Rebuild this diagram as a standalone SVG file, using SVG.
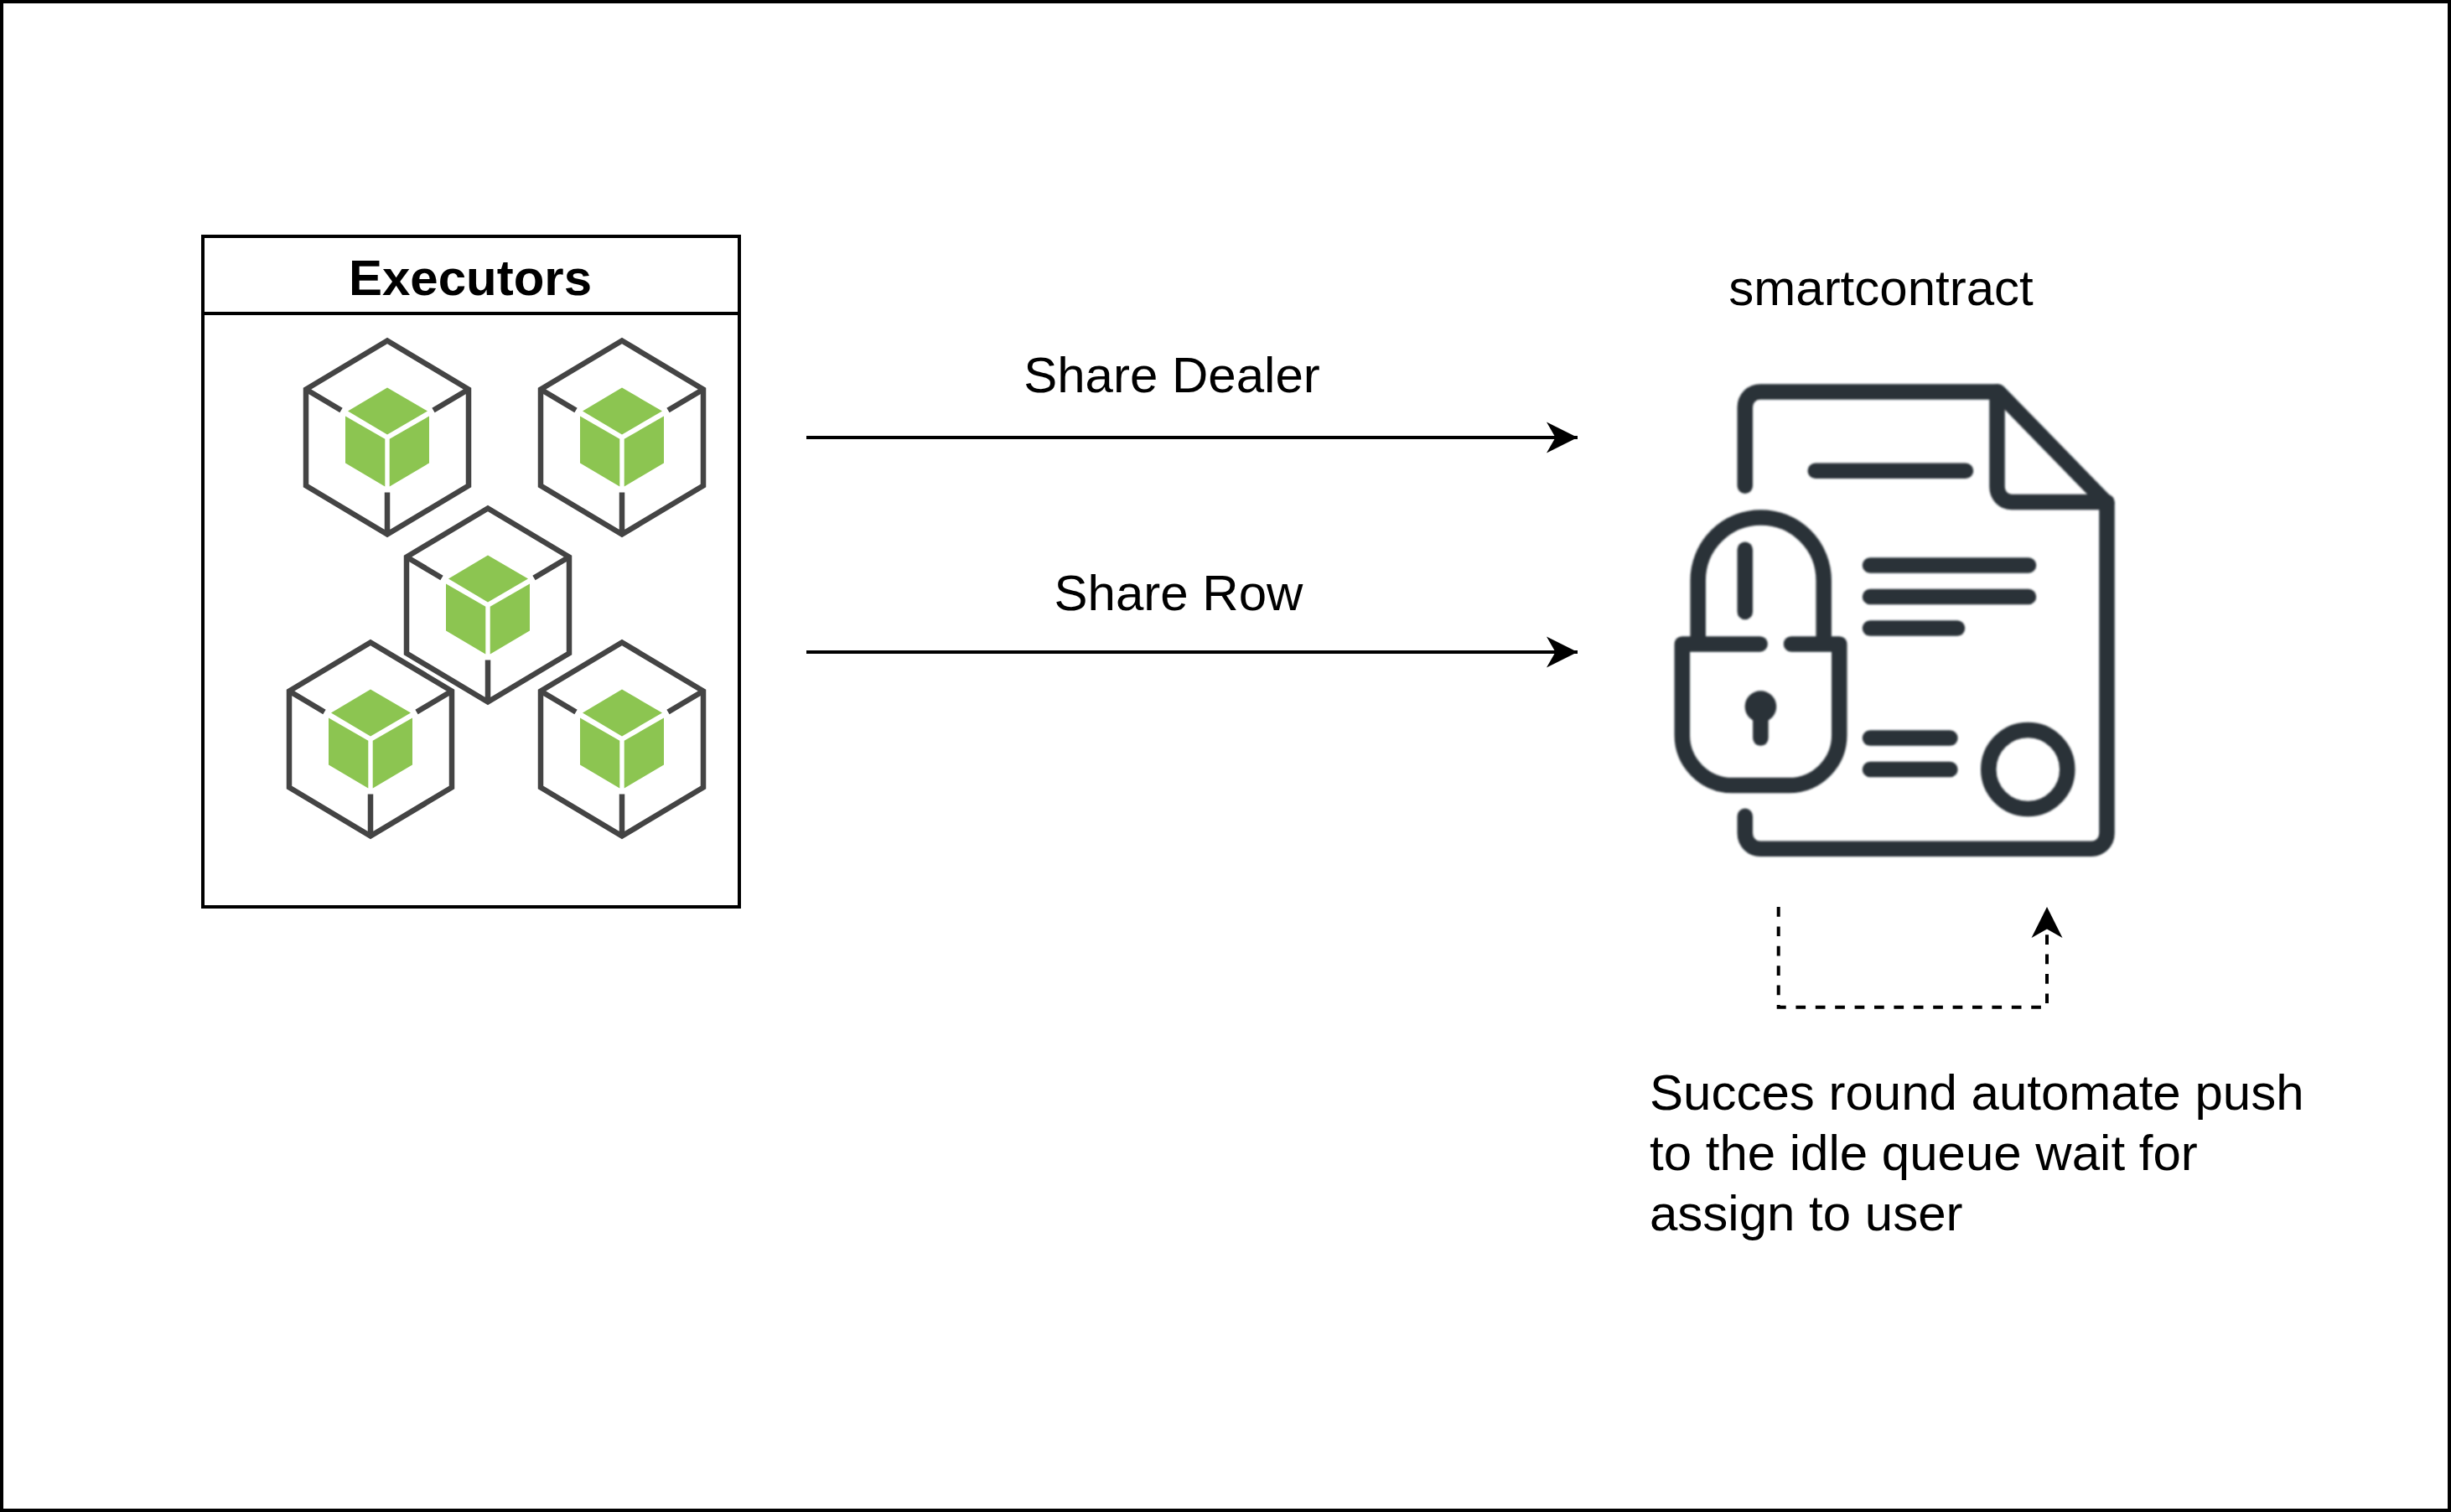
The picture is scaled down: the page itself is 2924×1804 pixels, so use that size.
<svg xmlns="http://www.w3.org/2000/svg" width="2924" height="1804" viewBox="0 0 2924 1804">
<style>
text{font-family:"Liberation Sans",Arial,sans-serif;font-size:60px;fill:#000}
.b{fill:none;stroke:#000;stroke-width:4}
.c{fill:none;stroke:#000;stroke-width:4}
.h{fill:none;stroke:#444;stroke-width:6.500;stroke-linejoin:miter}
.g{fill:#8cc551}
.i{fill:none;stroke:#293339;stroke-width:18.500;stroke-linecap:round;stroke-linejoin:round}
</style>
<defs>
<filter id="soft" x="-5%" y="-5%" width="110%" height="110%"><feGaussianBlur stdDeviation="0.8"/></filter>
<g id="cube">
<path class="h" d="M0-115.500L97-57.500V57.500L0 115.500L-97 57.500V-57.500ZM-97-57.500L-55-32.500M97-57.500L55-32.500M0 115.500V65.500"/>
<path class="g" d="M0-59.500L48-31.500L0-3.500L-47-31.500Z"/>
<path class="g" d="M-50-25.500L-2.700 1.800V58.500L-50 30.500Z"/>
<path class="g" d="M50-25.500L2.700 1.800V58.500L50 30.500Z"/>
</g>
<marker id="ah" markerUnits="userSpaceOnUse" markerWidth="40" markerHeight="40" viewBox="0 0 40 40" refX="37" refY="20" orient="auto">
<path d="M0 1.500L37 20L0 38.500L10.600 20Z" fill="#000"/>
</marker>
</defs>
<rect id="frame" x="2" y="2" width="2920" height="1800" fill="#fff" stroke="#000" stroke-width="4"/>
<g id="executors">
<rect class="b" x="242" y="282" width="640" height="800" fill="#fff"/>
<path class="b" d="M242 374H882"/>
<text x="561" y="352" text-anchor="middle" font-weight="bold">Executors</text>
</g>
<g id="executor-1"><use href="#cube" x="462" y="522"/></g>
<g id="executor-2"><use href="#cube" x="742" y="522"/></g>
<g id="executor-3"><use href="#cube" x="582" y="722"/></g>
<g id="executor-4"><use href="#cube" x="442" y="882"/></g>
<g id="executor-5"><use href="#cube" x="742" y="882"/></g>
<g id="smartcontract">
<text x="2244" y="364" text-anchor="middle">smartcontract</text>
<g filter="url(#soft)">
<path class="i" d="M2081.800 579.800V486C2081.800 475 2090 467.600 2100 467.600H2384L2513.500 600.600V994C2513.500 1005 2505 1012.800 2495 1012.800H2100C2090 1012.800 2081.800 1005 2081.800 994V973.700"/>
<path class="i" d="M2382.500 467.600V581C2382.500 591 2390 599 2400 599H2513.500"/>
<path class="i" d="M2165.700 561.800H2345M2231 674.500H2420M2231 712H2420M2231 749.600H2335M2231 880.600H2326.400M2231 918H2326.400"/>
<circle class="i" cx="2419.300" cy="918" r="47"/>
<path class="i" d="M2025.700 767.600V692.400A75 75 0 0 1 2175.700 692.400V767.600"/>
<path class="i" d="M2099.600 768.400H2006.800V877A60 60 0 0 0 2066.800 937H2134.300A60 60 0 0 0 2194.300 877V768.400H2137"/>
<path class="i" d="M2081.800 655.700V730"/>
<circle cx="2100.400" cy="843" r="18.800" fill="#293339"/>
<path class="i" d="M2100.400 843V880.600"/>
</g>
</g>
<g id="connectors">
<path class="c" marker-end="url(#ah)" d="M962 522H1882"/>
<path class="c" marker-end="url(#ah)" d="M962 778H1882"/>
<path class="c" stroke-dasharray="11.700 11.700" marker-end="url(#ah)" d="M2121.700 1082V1201.700H2442V1082"/>
</g>
<g id="labels">
<text x="1398" y="468" text-anchor="middle">Share Dealer</text>
<text x="1406" y="728" text-anchor="middle">Share Row</text>
<text x="1968" y="1324">Succes round automate push</text>
<text x="1968" y="1396">to the idle queue wait for</text>
<text x="1968" y="1468">assign to user</text>
</g>
</svg>
